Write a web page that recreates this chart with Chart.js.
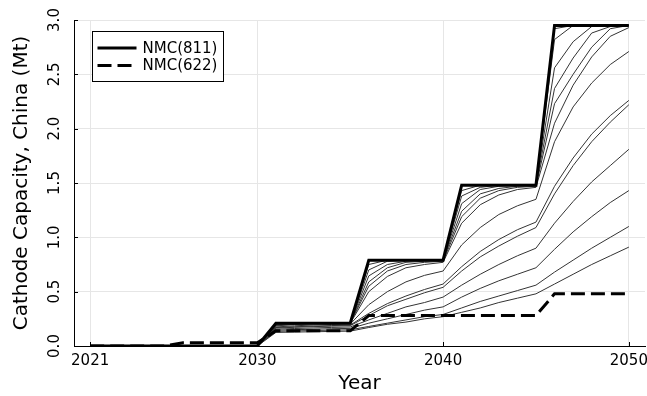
<!DOCTYPE html>
<html>
<head>
<meta charset="utf-8">
<script src="https://cdn.jsdelivr.net/npm/chart.js@4"></script>
<style>
  html, body { margin: 0; padding: 0; background: #fff; }
</style>
</head>
<body>
<canvas id="capChart" width="647" height="396"></canvas>
<script>
// years on the x axis
const years = [2021, 2022, 2023, 2024, 2025, 2026, 2027, 2028, 2029, 2030,
               2031, 2032, 2033, 2034, 2035, 2036, 2037, 2038, 2039, 2040,
               2041, 2042, 2043, 2044, 2045, 2046, 2047, 2048, 2049, 2050];

// planned cathode capacity (Mt)
const nmc811 = [0, 0, 0, 0, 0, 0, 0, 0, 0, 0,
                0.21, 0.21, 0.21, 0.21, 0.21, 0.79, 0.79, 0.79, 0.79, 0.79,
                1.48, 1.48, 1.48, 1.48, 1.48, 2.95, 2.95, 2.95, 2.95, 2.95];
const nmc622 = [0, 0, 0, 0, 0, 0.03, 0.03, 0.03, 0.03, 0.03,
                0.14, 0.14, 0.14, 0.14, 0.14, 0.28, 0.28, 0.28, 0.28, 0.28,
                0.28, 0.28, 0.28, 0.28, 0.28, 0.48, 0.48, 0.48, 0.48, 0.48];

// thin scenario lines, 2030 - 2050
const runYears = [2030, 2031, 2032, 2033, 2034, 2035, 2036, 2037, 2038, 2039, 2040,
                  2041, 2042, 2043, 2044, 2045, 2046, 2047, 2048, 2049, 2050];
const runs = [
  [0, 0.21, 0.21, 0.21, 0.21, 0.21, 0.75, 0.79, 0.79, 0.79, 0.79, 1.43, 1.48, 1.48, 1.48, 1.48, 2.92, 2.95, 2.95, 2.95, 2.95],
  [0, 0.205, 0.21, 0.21, 0.21, 0.21, 0.70, 0.78, 0.79, 0.79, 0.79, 1.38, 1.46, 1.48, 1.48, 1.48, 2.82, 2.95, 2.95, 2.95, 2.95],
  [0, 0.20, 0.208, 0.21, 0.21, 0.21, 0.645, 0.75, 0.78, 0.79, 0.79, 1.31, 1.44, 1.47, 1.48, 1.48, 2.56, 2.80, 2.94, 2.95, 2.95],
  [0, 0.195, 0.205, 0.208, 0.209, 0.21, 0.59, 0.72, 0.77, 0.78, 0.79, 1.24, 1.40, 1.45, 1.47, 1.48, 2.37, 2.65, 2.88, 2.94, 2.95],
  [0, 0.19, 0.20, 0.206, 0.208, 0.209, 0.55, 0.69, 0.75, 0.77, 0.78, 1.19, 1.36, 1.43, 1.46, 1.47, 2.23, 2.50, 2.75, 2.92, 2.95],
  [0, 0.185, 0.198, 0.204, 0.207, 0.208, 0.50, 0.64, 0.72, 0.75, 0.77, 1.13, 1.30, 1.39, 1.44, 1.46, 2.05, 2.40, 2.66, 2.85, 2.93],
  [0, 0.175, 0.186, 0.193, 0.198, 0.202, 0.38, 0.50, 0.59, 0.65, 0.69, 0.93, 1.09, 1.21, 1.29, 1.35, 1.88, 2.20, 2.42, 2.59, 2.71],
  [0, 0.17, 0.177, 0.183, 0.188, 0.192, 0.30, 0.39, 0.46, 0.52, 0.57, 0.73, 0.87, 0.98, 1.07, 1.14, 1.47, 1.73, 1.95, 2.12, 2.26],
  [0, 0.165, 0.172, 0.178, 0.183, 0.187, 0.28, 0.37, 0.43, 0.49, 0.54, 0.69, 0.82, 0.92, 1.01, 1.09, 1.40, 1.66, 1.88, 2.06, 2.22],
  [0, 0.155, 0.161, 0.166, 0.171, 0.175, 0.24, 0.30, 0.36, 0.40, 0.45, 0.56, 0.66, 0.75, 0.83, 0.90, 1.13, 1.33, 1.51, 1.66, 1.81],
  [0, 0.145, 0.150, 0.154, 0.159, 0.162, 0.21, 0.25, 0.29, 0.33, 0.36, 0.45, 0.53, 0.60, 0.66, 0.72, 0.89, 1.05, 1.19, 1.32, 1.43],
  [0, 0.135, 0.139, 0.142, 0.146, 0.149, 0.18, 0.21, 0.24, 0.27, 0.29, 0.35, 0.41, 0.46, 0.51, 0.56, 0.68, 0.79, 0.90, 1.00, 1.10],
  [0, 0.125, 0.128, 0.131, 0.134, 0.137, 0.17, 0.20, 0.22, 0.25, 0.27, 0.31, 0.35, 0.40, 0.44, 0.48, 0.57, 0.66, 0.75, 0.83, 0.91]
];

const xTicks = [2021, 2030, 2040, 2050];
const legendNames = ['NMC(811)', 'NMC(622)'];

const FONT = 'DejaVu Sans';
Chart.defaults.font.family = FONT;
Chart.defaults.color = '#000';

function toPoints(xs, ys) {
  return xs.map((x, i) => ({ x: x, y: ys[i] }));
}

const datasets = [
  { label: legendNames[0], data: toPoints(years, nmc811), borderColor: '#000', borderWidth: 3 },
  { label: legendNames[1], data: toPoints(years, nmc622), borderColor: '#000', borderWidth: 3, borderDash: [14, 6] }
];
runs.forEach((r, i) => {
  datasets.push({ label: 'run' + i, data: toPoints(runYears, r), borderColor: '#333', borderWidth: 1 });
});

// small inward tick marks like the original plot
const innerTicks = {
  id: 'innerTicks',
  afterDraw(chart) {
    const { ctx, chartArea: a, scales: { x, y } } = chart;
    ctx.save();
    ctx.strokeStyle = '#000';
    ctx.lineWidth = 1;
    ctx.beginPath();
    xTicks.forEach(v => {
      const px = Math.round(x.getPixelForValue(v)) + 0.5;
      ctx.moveTo(px, a.bottom);
      ctx.lineTo(px, a.bottom - 4);
    });
    y.ticks.forEach(t => {
      const py = Math.round(y.getPixelForValue(t.value)) + 0.5;
      ctx.moveTo(a.left, py);
      ctx.lineTo(a.left + 4, py);
    });
    ctx.stroke();
    ctx.restore();
  }
};

// legend box inside the plot area (top left)
const boxLegend = {
  id: 'boxLegend',
  afterDraw(chart) {
    const ctx = chart.ctx;
    const bx = 92.5, by = 31.5, bw = 131, bh = 50;
    ctx.save();
    ctx.fillStyle = '#fff';
    ctx.fillRect(bx, by, bw, bh);
    ctx.strokeStyle = '#000';
    ctx.lineWidth = 1;
    ctx.strokeRect(bx, by, bw, bh);
    legendNames.forEach((name, i) => {
      const ds = chart.data.datasets[i];
      const yy = by + 16.5 + i * 17.5;
      ctx.beginPath();
      ctx.setLineDash(ds.borderDash || []);
      ctx.lineWidth = ds.borderWidth;
      ctx.strokeStyle = ds.borderColor;
      ctx.moveTo(bx + 5, yy);
      ctx.lineTo(bx + 44, yy);
      ctx.stroke();
      ctx.setLineDash([]);
      ctx.fillStyle = '#000';
      ctx.font = '15px "' + FONT + '"';
      ctx.textBaseline = 'middle';
      ctx.textAlign = 'left';
      ctx.fillText(name, bx + 50, yy + 1);
    });
    ctx.restore();
  }
};

const ctx = document.getElementById('capChart').getContext('2d');
new Chart(ctx, {
  type: 'line',
  data: { datasets: datasets },
  options: {
    responsive: false,
    animation: false,
    devicePixelRatio: 1,
    layout: { padding: { left: 0, right: 2, top: 20, bottom: 0 } },
    elements: {
      point: { radius: 0 },
      line: { tension: 0, fill: false }
    },
    plugins: {
      legend: { display: false },
      tooltip: { enabled: false }
    },
    scales: {
      x: {
        type: 'linear',
        min: 2020.13,
        max: 2050.87,
        afterBuildTicks: s => { s.ticks = xTicks.map(v => ({ value: v })); },
        afterFit: s => { s.height = 50; s.paddingLeft = 0; s.paddingRight = 0; },
        grid: { color: '#e6e6e6', drawTicks: false },
        border: { color: '#000', width: 1 },
        ticks: {
          autoSkip: false, maxRotation: 0, padding: 6,
          font: { size: 15 },
          callback: v => String(v)
        },
        title: { display: true, text: 'Year', font: { size: 20 }, padding: { top: 0, bottom: 0 } }
      },
      y: {
        min: 0,
        max: 3,
        afterFit: s => { s.width = 74; s.paddingTop = 0; s.paddingBottom = 0; },
        grid: { color: '#e6e6e6', drawTicks: false },
        border: { color: '#000', width: 1 },
        ticks: {
          stepSize: 0.5, minRotation: 90, maxRotation: 90, crossAlign: 'center', padding: 7,
          font: { size: 15 },
          callback: v => v.toFixed(1)
        },
        title: { display: true, text: 'Cathode Capacity, China (Mt)', font: { size: 20 }, padding: { top: 10, bottom: 0 } }
      }
    }
  },
  plugins: [innerTicks, boxLegend]
});
</script>
</body>
</html>
